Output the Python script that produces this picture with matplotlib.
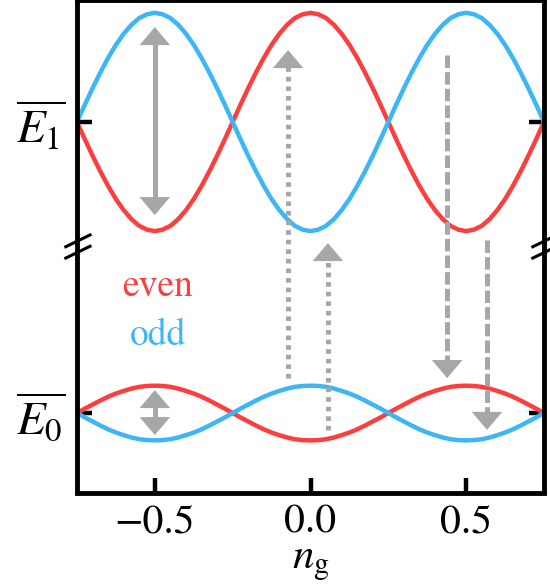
import numpy as np
import matplotlib
matplotlib.use('Agg')
import matplotlib.pyplot as plt

plt.rcParams['font.family'] = ['STIXGeneral', 'DejaVu Serif']
plt.rcParams['mathtext.fontset'] = 'stix'
plt.rcParams['lines.scale_dashes'] = False

# gate charge axis (sample positions)
ng = np.linspace(-0.75, 0.75, 61)

# upper band (around E1)
upper_even = [1.000, 0.941, 0.884, 0.830, 0.780, 0.735, 0.697, 0.666, 0.643, 0.630, 0.625,
              0.630, 0.643, 0.666, 0.697, 0.735, 0.780, 0.830, 0.884, 0.941, 1.000,
              1.059, 1.116, 1.170, 1.220, 1.265, 1.303, 1.334, 1.357, 1.370, 1.375,
              1.370, 1.357, 1.334, 1.303, 1.265, 1.220, 1.170, 1.116, 1.059, 1.000,
              0.941, 0.884, 0.830, 0.780, 0.735, 0.697, 0.666, 0.643, 0.630, 0.625,
              0.630, 0.643, 0.666, 0.697, 0.735, 0.780, 0.830, 0.884, 0.941, 1.000]
upper_odd = [1.000, 1.059, 1.116, 1.170, 1.220, 1.265, 1.303, 1.334, 1.357, 1.370, 1.375,
             1.370, 1.357, 1.334, 1.303, 1.265, 1.220, 1.170, 1.116, 1.059, 1.000,
             0.941, 0.884, 0.830, 0.780, 0.735, 0.697, 0.666, 0.643, 0.630, 0.625,
             0.630, 0.643, 0.666, 0.697, 0.735, 0.780, 0.830, 0.884, 0.941, 1.000,
             1.059, 1.116, 1.170, 1.220, 1.265, 1.303, 1.334, 1.357, 1.370, 1.375,
             1.370, 1.357, 1.334, 1.303, 1.265, 1.220, 1.170, 1.116, 1.059, 1.000]

# lower band (around E0)
lower_even = [0.000, 0.015, 0.029, 0.043, 0.056, 0.067, 0.076, 0.084, 0.090, 0.093, 0.094,
              0.093, 0.090, 0.084, 0.076, 0.067, 0.056, 0.043, 0.029, 0.015, 0.000,
              -0.015, -0.029, -0.043, -0.056, -0.067, -0.076, -0.084, -0.090, -0.093, -0.094,
              -0.093, -0.090, -0.084, -0.076, -0.067, -0.056, -0.043, -0.029, -0.015, 0.000,
              0.015, 0.029, 0.043, 0.056, 0.067, 0.076, 0.084, 0.090, 0.093, 0.094,
              0.093, 0.090, 0.084, 0.076, 0.067, 0.056, 0.043, 0.029, 0.015, 0.000]
lower_odd = [-0.000, -0.015, -0.029, -0.043, -0.056, -0.067, -0.076, -0.084, -0.090, -0.093, -0.094,
             -0.093, -0.090, -0.084, -0.076, -0.067, -0.056, -0.043, -0.029, -0.015, 0.000,
             0.015, 0.029, 0.043, 0.056, 0.067, 0.076, 0.084, 0.090, 0.093, 0.094,
             0.093, 0.090, 0.084, 0.076, 0.067, 0.056, 0.043, 0.029, 0.015, 0.000,
             -0.015, -0.029, -0.043, -0.056, -0.067, -0.076, -0.084, -0.090, -0.093, -0.094,
             -0.093, -0.090, -0.084, -0.076, -0.067, -0.056, -0.043, -0.029, -0.015, 0.000]

# transition arrows: x, start, end, style, double-headed
arrow_x = [-0.5, -0.5, -0.072, 0.056, 0.439, 0.567]
arrow_from = [0.680, -0.076, 0.120, -0.058, 1.230, 0.595]
arrow_to = [1.326, 0.079, 1.247, 0.584, 0.120, -0.058]
arrow_style = ['solid', 'solid', 'dotted', 'dotted', 'dashed', 'dashed']
arrow_both = [True, True, False, False, False, False]

xtick_pos = [-0.5, 0.0, 0.5]
xtick_labels = ['\u22120.5', '0.0', '0.5']
ytick_pos = [0, 1]
ytick_labels = [r'$\overline{E_0}$', r'$\overline{E_1}$']

red = '#fb3f3f'
blue = '#3db6f6'
gray = '#a7a7a9'

fig = plt.figure(figsize=(5.5, 5.88), dpi=100)
ax = fig.add_axes([77 / 550, 1 - 492.5 / 588, 467 / 550, 492.5 / 588])

for ys, c in [(upper_even, red), (upper_odd, blue), (lower_even, red), (lower_odd, blue)]:
    ax.plot(ng, ys, color=c, lw=3.2, zorder=2)


def head(x, y_from, y_to):
    ax.annotate('', xy=(x, y_to), xytext=(x, y_from),
                arrowprops=dict(arrowstyle='-|>,head_length=0.65,head_width=0.55',
                                mutation_scale=20, lw=0, color=gray,
                                shrinkA=0, shrinkB=0), zorder=4)


for x, y0, y1, st, both in zip(arrow_x, arrow_from, arrow_to, arrow_style, arrow_both):
    s = np.sign(y1 - y0)
    a = y0 + s * 0.03 if both else y0
    b = y1 - s * 0.03
    line, = ax.plot([x, x], [a, b], color=gray, lw=3.6, zorder=3,
                    solid_capstyle='butt', dash_capstyle='butt')
    if st == 'dashed':
        line.set_dashes((9, 3))
    elif st == 'dotted':
        line.set_dashes((3.3, 3.6))
    head(x, y0, y1)
    if both:
        head(x, y1, y0)

ax.text(-0.49, 0.405, 'even', color=red, fontsize=27, ha='center', va='baseline')
ax.text(-0.49, 0.234, 'odd', color=blue, fontsize=27, ha='center', va='baseline')

ax.set_xlim(-0.75, 0.75)
ax.set_ylim(-0.273, 1.419)
ax.set_xticks(xtick_pos)
ax.set_xticklabels(xtick_labels)
ax.set_yticks(ytick_pos)
ax.set_yticklabels(ytick_labels)
ax.tick_params(direction='in', length=11, width=3.2, labelsize=30, pad=8,
               right=True, top=False)
ax.tick_params(axis='y', labelsize=34)
ax.set_xlabel(r'$n_\mathrm{g}$', fontsize=31, labelpad=3)
for sp in ax.spines.values():
    sp.set_linewidth(3.5)

# axis break marks on both sides
for x0 in [0, 1]:
    for y0 in [0.476, 0.499]:
        ax.plot([x0 - 0.024, x0 + 0.028], [y0, y0 + 0.024], color='black', lw=2.2,
                transform=ax.transAxes, clip_on=False, zorder=5)

fig.savefig('out.png', dpi=100)
